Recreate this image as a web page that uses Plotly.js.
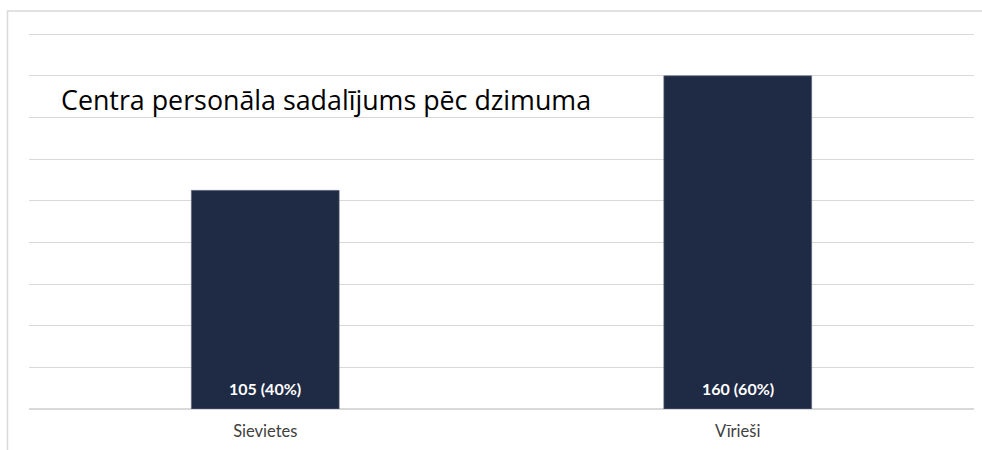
<!DOCTYPE html>
<html>
<head>
<meta charset="utf-8">
<script src="https://cdn.plot.ly/plotly-3.0.1.min.js"></script>
<style>html,body{margin:0;padding:0;background:#fff;}#chart{width:982px;height:450px;}</style>
</head>
<body>
<div id="chart"></div>
<script>
const categories = ["Sievietes", "Vīrieši"];
const counts = [105, 160];
const percents = [40, 60];
const chartTitle = "Centra personāla sadalījums pēc dzimuma";

const labels = counts.map((v, i) => v + " (" + percents[i] + "%)");

const trace = {
  type: "bar",
  x: categories,
  y: counts,
  width: 0.313,
  marker: { color: "#1f2a44", line: { color: "#6b7488", width: 0.6 } },
  hoverinfo: "none"
};

const L = 29, R = 8, T = 30, B = 41, W = 982, H = 450;
const pw = W - L - R, ph = H - T - B;

const annotations = categories.map((c, i) => ({
  x: c, y: 0, xref: "x", yref: "y",
  text: "<b>" + labels[i] + "</b>",
  showarrow: false, yanchor: "bottom", yshift: 9,
  font: { family: "Lato, 'Open Sans', sans-serif", size: 16, color: "#ffffff" }
}));
annotations.push({
  x: (59 - L) / pw, y: (H - B - 99) / ph, xref: "paper", yref: "paper",
  xanchor: "left", yanchor: "middle",
  text: chartTitle, showarrow: false,
  font: { family: "'Open Sans', 'Noto Sans', sans-serif", size: 26.8, color: "#000000" }
});

const layout = {
  width: W, height: H,
  margin: { l: L, r: R, t: T, b: B, pad: 0 },
  paper_bgcolor: "#ffffff",
  plot_bgcolor: "#ffffff",
  showlegend: false,
  xaxis: {
    type: "category",
    showgrid: false, zeroline: false, showline: false,
    ticks: "outside", ticklen: 7, tickcolor: "rgba(0,0,0,0)",
    tickfont: { family: "Lato, 'Open Sans', sans-serif", size: 16.5, color: "#404040" }
  },
  yaxis: {
    range: [0, 182], dtick: 20, tick0: 0,
    showticklabels: false, ticks: "",
    showgrid: true, gridcolor: "#d9d9d9", gridwidth: 1,
    zeroline: true, zerolinecolor: "#d9d9d9", zerolinewidth: 1.5,
    showline: false
  },
  annotations: annotations,
  shapes: [{
    type: "path", xref: "paper", yref: "paper",
    path: "M " + ((7.5 - L) / pw) + " " + ((H - B - 452) / ph) +
          " L " + ((7.5 - L) / pw) + " " + ((H - B - 11) / ph) +
          " L " + ((984 - L) / pw) + " " + ((H - B - 11) / ph),
    line: { color: "#d9d9d9", width: 1.5 }
  }]
};

Plotly.newPlot("chart", [trace], layout, { displayModeBar: false, staticPlot: true });
</script>
</body>
</html>
